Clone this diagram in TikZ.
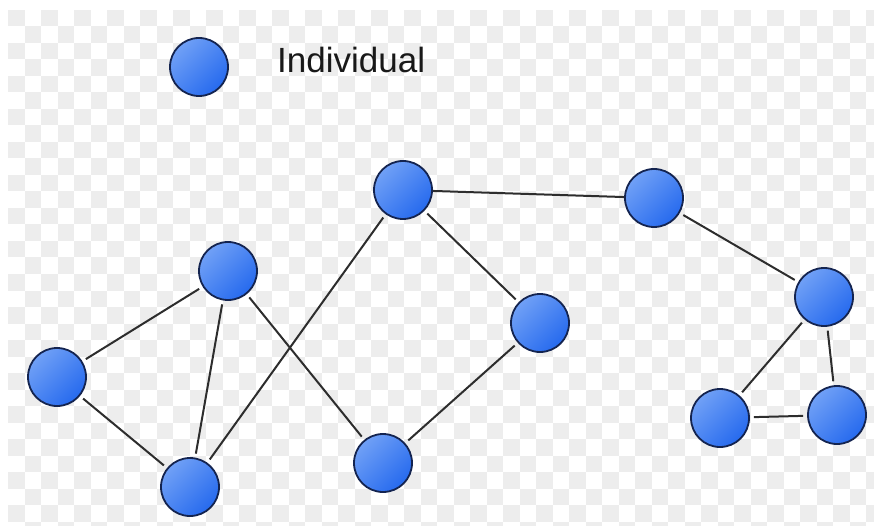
\documentclass[tikz,border=0pt]{standalone}
\usepackage{fontspec}
\setmainfont{Liberation Sans}
\definecolor{indlight}{RGB}{112,160,246}
\definecolor{inddark}{RGB}{38,106,238}
\definecolor{indline}{RGB}{20,36,80}
\definecolor{edgegray}{RGB}{45,45,45}
\definecolor{checkgray}{RGB}{237,237,237}
\tikzset{
  individual/.style={circle,minimum size=58pt,inner sep=0pt,draw=indline,line width=1.8pt,
    top color=indlight,bottom color=inddark,shading angle=45},
  tie/.style={draw=edgegray,line width=2pt,shorten <=4pt,shorten >=4pt}
}
\begin{document}
\begin{tikzpicture}[x=1pt,y=-1pt]
\useasboundingbox(0,0)rectangle(874,526);
\fill[white](0,0)rectangle(874,526);
\foreach \i in {0,...,52}{\foreach \j in {0,...,31}{
  \pgfmathtruncatemacro{\k}{mod(\i+\j,2)}
  \ifnum\k=0 \fill[checkgray](8+16.5*\i,10+16.5*\j)rectangle++(16.5,16.5);\fi}}
% legend
\node[individual](key)at(199,67){};
\node[anchor=base west,inner sep=0pt,font=\fontsize{35}{40}\selectfont,text=black!90]at(277,73){Individual};
% network
\node[individual](a)at(57,377){};
\node[individual](b)at(228,271){};
\node[individual](c)at(190,487){};
\node[individual](d)at(403,190){};
\node[individual](e)at(383,463){};
\node[individual](f)at(540,323){};
\node[individual](g)at(654,198){};
\node[individual](h)at(824,297){};
\node[individual](i)at(720,418){};
\node[individual](j)at(837,415){};
\foreach \u/\v in {a/b,a/c,b/c,b/e,c/d,d/f,e/f,g/h,h/i,h/j,i/j}{\draw[tie](\u)--(\v);}
\draw[draw=edgegray,line width=2pt](d)--(g);
\end{tikzpicture}
\end{document}
